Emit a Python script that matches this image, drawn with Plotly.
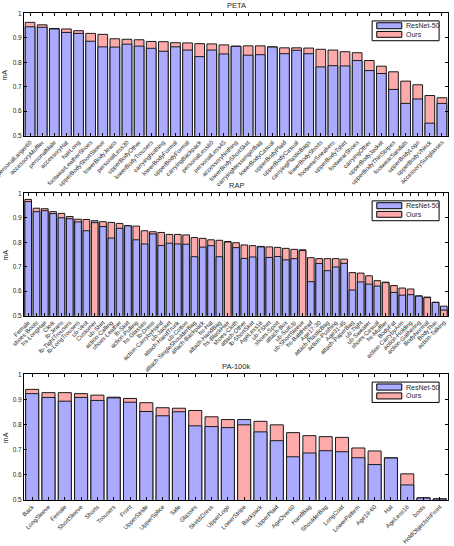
import numpy as np
import plotly.graph_objects as go

# ---------------- data ----------------
peta_labels = ["personalLarger60", "accessoryMuffler", "personalMale", "accessoryHat", "hairLong",
               "footwearLeatherShoes", "upperBodyShortSleeve", "lowerBodyJeans", "personalLess30",
               "upperBodyOther", "lowerBodyTrousers", "carryingNothing", "lowerBodyFormal",
               "upperBodyFormal", "carryingBackpack", "personalLess60", "personalLess45",
               "accessoryNothing", "lowerBodyShortSkirt", "carryingMessengerBag", "lowerBodyCasual",
               "upperBodyPlaid", "upperBodyCasual", "carryingPlasticBags", "lowerBodyShorts",
               "footwearSneakers", "upperBodyTshirt", "footwearShoes", "carryingOther",
               "upperBodyJacket", "upperBodyThinStripes", "footwearSandals", "upperBodyLogo",
               "upperBodyVNeck", "accessorySunglasses"]
peta_ours = [0.963, 0.953, 0.938, 0.936, 0.929, 0.918, 0.914, 0.896, 0.894, 0.892, 0.885, 0.884,
             0.880, 0.879, 0.876, 0.875, 0.871, 0.866, 0.867, 0.867, 0.863, 0.859, 0.859, 0.858,
             0.853, 0.850, 0.843, 0.839, 0.807, 0.784, 0.761, 0.723, 0.708, 0.664, 0.655]
peta_resnet = [0.945, 0.943, 0.936, 0.922, 0.918, 0.886, 0.863, 0.862, 0.874, 0.866, 0.857, 0.845,
               0.863, 0.850, 0.823, 0.850, 0.834, 0.865, 0.829, 0.831, 0.862, 0.835, 0.849, 0.835,
               0.781, 0.786, 0.785, 0.807, 0.766, 0.754, 0.689, 0.632, 0.650, 0.551, 0.632]

rap_labels = ["Female", "shoes-Boots", "hs-LongHair", "Clerk", "lb-Jeans", "lb-TightTrousers",
              "lb-LongTrousers", "ub-Vest", "Customer", "ub-Shirt", "action-Calling", "shoes-Leather",
              "lb-Skirt", "action-Pulling", "hs-Glasses", "lb-Dress", "action-CarrybyHand", "ub-Jacket",
              "attach-HandTrunk", "ub-Cotton", "attach-SingleShoulderBag", "attach-Backpack", "hs-Hat",
              "attach-HandBag", "hs-BlackHair", "shoes-Cloth", "attach-Other", "lb-ShortSkirt",
              "AgeLess16", "ub-TShirt", "shoes-Sport", "attach-Box", "ub-SuitUp", "ub-ShortSleeve",
              "hs-BaldHead", "Age17-30", "attach-PlasticBag", "action-Pushing", "Age31-45",
              "attach-PaperBag", "ub-Tight", "ub-Sweater", "shoes-Casual", "hs-Muffler", "BodyFat",
              "action-CarrybyArm", "action-Holding", "action-Gathering", "BodyNormal", "BodyThin",
              "action-Talking"]
rap_ours = [0.975, 0.939, 0.937, 0.925, 0.918, 0.905, 0.894, 0.893, 0.880, 0.884, 0.881, 0.877,
            0.868, 0.866, 0.847, 0.843, 0.840, 0.832, 0.832, 0.830, 0.819, 0.816, 0.810, 0.808,
            0.801, 0.798, 0.789, 0.786, 0.783, 0.781, 0.779, 0.775, 0.771, 0.766, 0.737, 0.733,
            0.733, 0.733, 0.731, 0.676, 0.674, 0.663, 0.643, 0.635, 0.623, 0.613, 0.609, 0.581,
            0.574, 0.555, 0.523]
rap_resnet = [0.966, 0.925, 0.929, 0.917, 0.900, 0.896, 0.883, 0.847, 0.888, 0.864, 0.817, 0.857,
              0.867, 0.810, 0.793, 0.834, 0.787, 0.796, 0.793, 0.792, 0.741, 0.780, 0.786, 0.741,
              0.803, 0.778, 0.734, 0.740, 0.781, 0.738, 0.742, 0.728, 0.733, 0.769, 0.639, 0.713,
              0.684, 0.699, 0.714, 0.605, 0.638, 0.629, 0.621, 0.637, 0.595, 0.584, 0.586, 0.580,
              0.576, 0.554, 0.539]

pa_labels = ["Back", "LongSleeve", "Female", "ShortSleeve", "Shorts", "Trousers", "Front",
             "UpperStride", "UpperSplice", "Side", "Glasses", "Skirt&Dress", "UpperLogo",
             "LowerStripe", "Backpack", "UpperPlaid", "AgeOver60", "HandBag", "ShoulderBag",
             "LongCoat", "LowerPattern", "Age18-60", "Hat", "AgeLess18", "boots",
             "HoldObjectsInFront"]
pa_ours = [0.940, 0.927, 0.927, 0.923, 0.917, 0.909, 0.904, 0.887, 0.867, 0.865, 0.856, 0.831,
           0.820, 0.799, 0.813, 0.799, 0.768, 0.756, 0.752, 0.749, 0.707, 0.695, 0.668, 0.604,
           0.509, 0.505]
pa_resnet = [0.923, 0.908, 0.893, 0.908, 0.896, 0.906, 0.889, 0.852, 0.835, 0.851, 0.795, 0.792,
             0.788, 0.820, 0.771, 0.736, 0.672, 0.687, 0.696, 0.692, 0.668, 0.641, 0.667, 0.560,
             0.508, 0.504]

yticks = [0.5, 0.6, 0.7, 0.8, 0.9, 1.0]
ytick_text = ["0.5", "0.6", "0.7", "0.8", "0.9", "1"]

# ---------------- style ----------------
BLUE = "#aaaaff"
PINK = "#ffaaaa"
EDGE = "#1a1a1a"
FONT = "Liberation Sans, Arial, sans-serif"
TXT = "#262626"

panels = [("PETA", peta_labels, peta_resnet, peta_ours, (0.7515, 0.9756)),
          ("RAP", rap_labels, rap_resnet, rap_ours, (0.4218, 0.646)),
          ("PA-100k", pa_labels, pa_resnet, pa_ours, (0.0842, 0.3145))]
xdom = [0.0529, 0.9868]

fig = go.Figure()
layout = dict(width=454, height=546, margin=dict(l=0, r=0, t=0, b=0), autosize=False,
              paper_bgcolor="white", plot_bgcolor="white", barmode="overlay",
              showlegend=False, font=dict(family=FONT, size=7, color=TXT))
annotations = []
shapes = []

for i, (title, labels, res, ours, ydom) in enumerate(panels):
    k = "" if i == 0 else str(i + 1)
    xa, ya = "x" + k, "y" + k
    r = np.array(res, dtype=float)
    o = np.array(ours, dtype=float)
    ours_taller = o >= r
    # taller bar drawn behind, shorter bar in front
    layers = [
        ("Ours", np.where(ours_taller, o, np.nan), PINK),
        ("ResNet-50", np.where(~ours_taller, r, np.nan), BLUE),
        ("ResNet-50", np.where(ours_taller, r, np.nan), BLUE),
        ("Ours", np.where(~ours_taller, o, np.nan), PINK),
    ]
    for name, vals, col in layers:
        fig.add_trace(go.Bar(
            x=labels, y=[None if np.isnan(v) else v for v in vals], name=name,
            width=0.8, xaxis=xa, yaxis=ya,
            marker=dict(color=col, line=dict(color=EDGE, width=1))))

    layout["xaxis" + k] = dict(
        domain=xdom, anchor=ya, type="category", range=[-0.5, len(labels) - 0.5],
        tickmode="array", tickvals=labels, ticktext=labels, tickangle=-45,
        ticks="inside", ticklen=3, tickwidth=1, tickcolor="#000",
        showline=True, linecolor="#000", linewidth=1, mirror="ticks",
        showgrid=False, zeroline=False, automargin=False,
        tickfont=dict(family=FONT, size=6, color=TXT))
    layout["yaxis" + k] = dict(
        domain=list(ydom), anchor=xa, range=[0.5, 1.0],
        tickmode="array", tickvals=yticks, ticktext=ytick_text,
        ticks="inside", ticklen=3, tickwidth=1, tickcolor="#000",
        showline=True, linecolor="#000", linewidth=1, mirror="ticks",
        showgrid=False, zeroline=False, automargin=False,
        tickfont=dict(family=FONT, size=6.5, color=TXT))

    # panel title
    annotations.append(dict(text=title, xref=xa + " domain", yref=ya + " domain", x=0.5, y=1.0,
                            xanchor="center", yanchor="bottom", yshift=1, showarrow=False,
                            font=dict(family=FONT, size=7.5, color=TXT)))
    # y label
    annotations.append(dict(text="mA", xref="paper", yref=ya + " domain", x=0.011, y=0.5,
                            xanchor="center", yanchor="middle", textangle=-90, showarrow=False,
                            font=dict(family=FONT, size=7, color=TXT)))
    # legend box
    shapes.append(dict(type="rect", xref=xa + " domain", yref=ya + " domain",
                       x0=0.821, x1=0.979, y0=0.776, y1=0.938,
                       fillcolor="white", line=dict(color="#000", width=1), layer="above"))
    for j, (nm, col) in enumerate([("ResNet-50", BLUE), ("Ours", PINK)]):
        yt, yb = (0.923, 0.874) if j == 0 else (0.852, 0.804)
        shapes.append(dict(type="rect", xref=xa + " domain", yref=ya + " domain",
                           x0=0.832, x1=0.891, y0=yb, y1=yt, fillcolor=col,
                           line=dict(color="#000", width=1), layer="above"))
        annotations.append(dict(text=nm, xref=xa + " domain", yref=ya + " domain",
                                x=0.897, y=(yt + yb) / 2, xanchor="left", yanchor="middle",
                                showarrow=False, font=dict(family=FONT, size=7, color=TXT)))

layout["annotations"] = annotations
layout["shapes"] = shapes
fig.update_layout(**layout)
fig.write_html("out.html", config={"displayModeBar": False})
